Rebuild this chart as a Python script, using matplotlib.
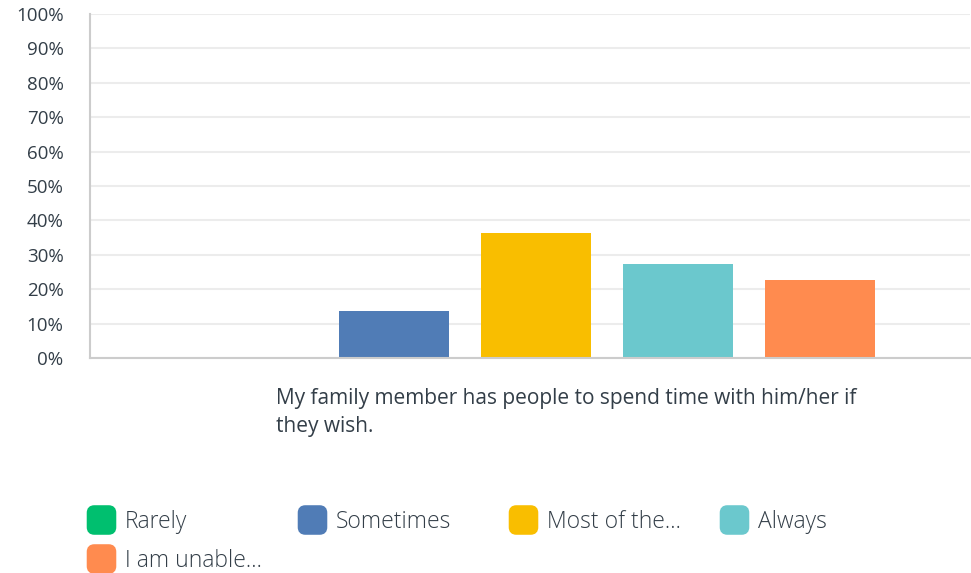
import matplotlib
matplotlib.use('Agg')
import matplotlib.pyplot as plt
from matplotlib.patches import FancyBboxPatch
from matplotlib.ticker import FuncFormatter

plt.rcParams['font.family'] = ['Open Sans', 'DejaVu Sans']

# data
answers = ['Rarely', 'Sometimes', 'Most of the...', 'Always', 'I am unable...']
percents = [0.0, 13.64, 36.36, 27.27, 22.73]
colors = ['#00bf6f', '#507cb6', '#f9be00', '#6bc8cd', '#ff8b4f']
question = 'My family member has people to spend time with him/her if\nthey wish.'
yticks = list(range(0, 101, 10))

text_col = '#333e48'

fig = plt.figure(figsize=(9.71, 5.73), dpi=100)
W, H = 971, 573
ax = fig.add_axes([90 / W, (H - 358) / H, 880 / W, 344 / H])

xs = list(range(len(answers)))
ax.bar(xs, percents, width=0.775, color=colors, zorder=3)
ax.set_xlim(-1.14, 5.06)
ax.set_ylim(0, 100)
ax.set_yticks(yticks)
ax.yaxis.set_major_formatter(FuncFormatter(lambda v, p: f'{int(v)}%'))
ax.tick_params(axis='y', length=0, pad=19, labelsize=13.5, labelcolor=text_col)
ax.set_xticks([])
ax.grid(axis='y', color='#ececec', linewidth=1.5, zorder=0)
for s in ['top', 'right']:
    ax.spines[s].set_visible(False)
ax.spines['left'].set_color('#cccccc')
ax.spines['bottom'].set_color('#cccccc')
ax.spines['left'].set_linewidth(1.5)
ax.spines['bottom'].set_linewidth(1.5)
ax.spines['left'].set_zorder(4)
ax.spines['bottom'].set_zorder(4)

fig.text(276 / W, 1 - 388 / H, question, ha='left', va='top', fontsize=15,
         color=text_col, linespacing=1.45)

# legend
lx = [87, 298, 509, 720]
ly = [520, 559]
for i, (lab, c) in enumerate(zip(answers, colors)):
    x0 = lx[i % 4]
    yc = ly[i // 4]
    box = FancyBboxPatch(((x0 + 2.5) / W, 1 - (yc + 12) / H), 24 / W, 24 / H,
                         boxstyle='round,pad=0,rounding_size=0.005',
                         transform=fig.transFigure, facecolor=c, edgecolor=c,
                         linewidth=4, mutation_aspect=W / H)
    fig.patches.append(box)
    fig.text((x0 + 38) / W, 1 - (yc + 2) / H, lab, ha='left', va='center',
             fontsize=16.5, color=text_col, fontweight='light')

fig.savefig('out.png', dpi=100)
